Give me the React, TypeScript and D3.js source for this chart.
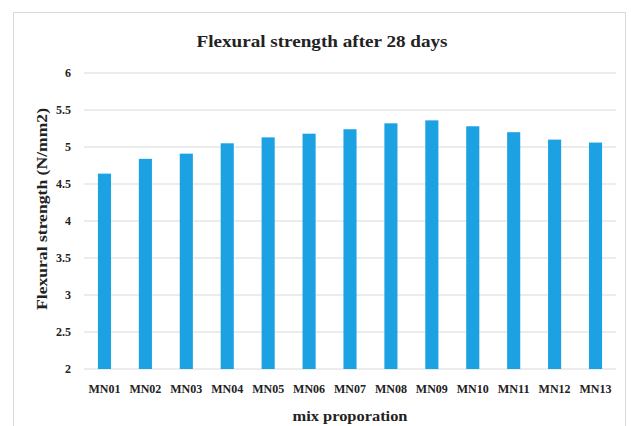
import React from "react";
import * as d3 from "d3";

const categories = ["MN01", "MN02", "MN03", "MN04", "MN05", "MN06", "MN07", "MN08", "MN09", "MN10", "MN11", "MN12", "MN13"];
const strengths = [4.64, 4.84, 4.91, 5.05, 5.13, 5.18, 5.24, 5.32, 5.36, 5.28, 5.2, 5.1, 5.06];
const yTicks = [2, 2.5, 3, 3.5, 4, 4.5, 5, 5.5, 6];

const W = 631;
const H = 426;
const plot = { left: 84, right: 616, top: 73, bottom: 369 };
const FONT = "'Liberation Serif', 'Times New Roman', serif";
const BAR = "#1ca1e3";
const INK = "#222";

export default function App() {
  const x = d3.scaleBand<string>().domain(categories).range([plot.left, plot.right]).paddingInner(0.68).paddingOuter(0.34);
  const y = d3.scaleLinear().domain([2, 6]).range([plot.bottom, plot.top]);

  return (
    <svg width={W} height={H} style={{ position: "absolute", left: 0, top: 0, background: "#fff" }}>
      <rect x={13.5} y={12.5} width={612} height={420} fill="#fff" stroke="#d9d9d9" strokeWidth={1} />
      <text x={322} y={47} textAnchor="middle" fontFamily={FONT} fontWeight="bold" fontSize={17.5} fill={INK}
        textLength={251} lengthAdjust="spacingAndGlyphs">
        Flexural strength after 28 days
      </text>
      {yTicks.map((t) => (
        <g key={t}>
          <line x1={plot.left} x2={plot.right} y1={y(t)} y2={y(t)} stroke="#d9d9d9" strokeWidth={1} />
          <text x={71} y={y(t)} dy="0.35em" textAnchor="end" fontFamily={FONT} fontWeight="bold" fontSize={12} fill={INK}>
            {t}
          </text>
        </g>
      ))}
      {categories.map((c, i) => (
        <rect key={c} x={x(c)} y={y(strengths[i])} width={x.bandwidth()} height={y(2) - y(strengths[i])} fill={BAR} />
      ))}
      {categories.map((c) => (
        <text key={c} x={(x(c) ?? 0) + x.bandwidth() / 2} y={393} textAnchor="middle" fontFamily={FONT} fontWeight="bold" fontSize={12} fill={INK}
          textLength={32} lengthAdjust="spacingAndGlyphs">
          {c}
        </text>
      ))}
      <text transform={`translate(47,209) rotate(-90)`} textAnchor="middle" fontFamily={FONT} fontWeight="bold" fontSize={15} fill={INK}
        textLength={202} lengthAdjust="spacingAndGlyphs">
        Flexural strength (N/mm2)
      </text>
      <text x={350} y={421} textAnchor="middle" fontFamily={FONT} fontWeight="bold" fontSize={14} fill={INK}
        textLength={115} lengthAdjust="spacingAndGlyphs">
        mix proporation
      </text>
    </svg>
  );
}
